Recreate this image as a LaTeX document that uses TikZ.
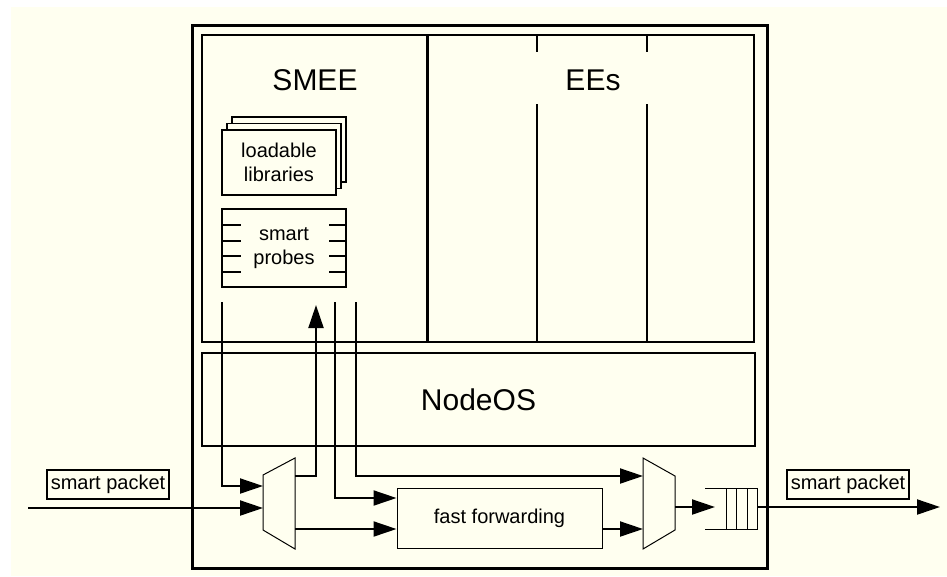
\documentclass[tikz,border=0pt]{standalone}
\usepackage{fontspec}
\setmainfont{Liberation Sans}
\usetikzlibrary{arrows.meta}
\definecolor{paper}{RGB}{255,255,240}

\begin{document}
\begin{tikzpicture}[x=1pt,y=-1pt, every node/.style={font=\fontsize{20}{24}\selectfont, inner sep=0pt},
  big/.style={font=\fontsize{30}{34}\selectfont},
  flow/.style={line width=2pt,-{Triangle[length=23pt,width=15pt]}},
  pkt/.style={draw,line width=2pt,minimum width=122pt,minimum height=29pt},
  libbox/.style={draw,line width=1.5pt,fill=paper,minimum width=114pt,minimum height=65pt,align=center},
  hair/.style={line width=1pt}]
  \useasboundingbox (0,0) rectangle (947,576);
  \fill[paper] (11,7) rectangle (947,576);
  \draw[line width=3pt] (192,25) rectangle (767,568);
  \draw[line width=2pt] (202,35) rectangle (754,342);
  \draw[line width=3pt] (427,35) -- (427,342);
  \foreach \xx in {537,647} \draw[line width=2pt] (\xx,35) -- (\xx,52) (\xx,104) -- (\xx,342);
  \node[big] (smee) at (315,80) {SMEE};
  \node[big] (ees) at (593,80) {EEs};
  \foreach \k in {2,1} \node[libbox] at (279+5*\k,162.5-6.5*\k) {};
  \node[libbox] (libs) at (279,162.5) {loadable\\libraries};
  \node[draw,line width=2pt,minimum width=124pt,minimum height=78pt,align=center] (probes) at (284,248) {smart\\probes};
  \foreach \yy in {225,241,256,272} \draw[line width=2.5pt] (222,\yy) -- (241,\yy) (329,\yy) -- (346,\yy);
  \node[draw,line width=2pt,minimum width=553pt,minimum height=93pt,big] (nodeos) at (478.5,399.5) {NodeOS};
  \node[draw,hair,minimum width=205pt,minimum height=60pt] (ff) at (499.5,518) {fast forwarding};
  \draw[hair] (263,475) -- (295,458) -- (295,549) -- (263,530) -- cycle;
  \draw[hair] (643,458) -- (675,476) -- (675,530) -- (643,549) -- cycle;
  \draw[hair] (705,488) -- (757,488) -- (757,529) -- (705,529);
  \foreach \xx in {726,736,747} \draw[hair] (\xx,488) -- (\xx,529);
  \node[pkt] (inlbl) at (108,484.5) {smart packet};
  \node[pkt] (outlbl) at (848,484.5) {smart packet};
  \coordinate (pktIn) at (28,508); \coordinate (pktOut) at (940,507);
  \coordinate (tapA) at (222,302); \coordinate (probeIn) at (316,305);
  \coordinate (tapB) at (335,302); \coordinate (tapC) at (356,302);
  \coordinate (dmxA) at (263,486); \coordinate (dmxB) at (263,508);
  \coordinate (dmxUp) at (295,476); \coordinate (dmxDn) at (295,529);
  \coordinate (ffInA) at ([yshift=20pt]ff.west); \coordinate (ffInB) at ([yshift=-11pt]ff.west);
  \coordinate (ffOut) at ([yshift=-11pt]ff.east);
  \coordinate (muxA) at (643,476); \coordinate (muxB) at (643,529); \coordinate (muxOut) at (675,507);
  \coordinate (qIn) at (715,507); \coordinate (qOut) at (757,507);
  \draw[flow] (tapA) |- (dmxA);
  \draw[flow] (pktIn) -- (dmxB);
  \draw[flow] (dmxUp) -| (probeIn);
  \draw[flow] (dmxDn) -- (ffInB);
  \draw[flow] (tapB) |- (ffInA);
  \draw[flow] (tapC) |- (muxA);
  \draw[flow] (ffOut) -- (muxB);
  \draw[flow] (muxOut) -- (qIn);
  \draw[flow] (qOut) -- (pktOut);
\end{tikzpicture}
\end{document}
